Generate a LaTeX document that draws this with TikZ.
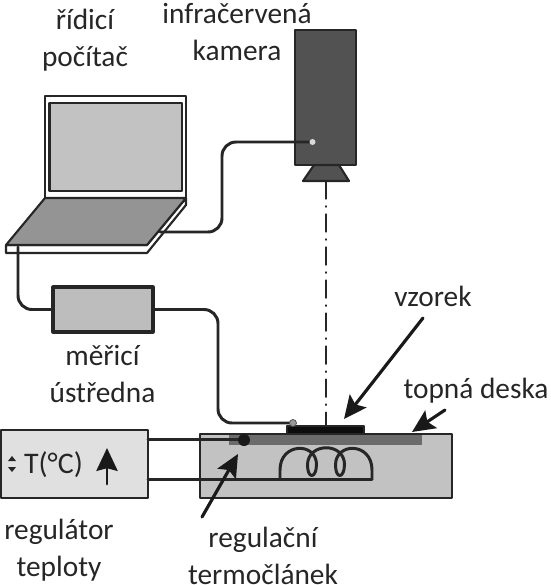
\documentclass[tikz,border=0pt]{standalone}
\usepackage{fontspec}
\setmainfont{Carlito}
\usetikzlibrary{arrows.meta}

\begin{document}
\begin{tikzpicture}[x=0.02cm, y=-0.02cm, line cap=round, line join=round]
  \def\u{0.02cm} % jeden pixel reference
  \tikzset{
    part/.style={draw=black!85, line width=1.2pt, inner sep=0pt, outer sep=0pt},
    cable/.style={line width=1.7pt, draw=black!85, rounded corners=14*\u},
    label/.style={font=\fontsize{16.7pt}{21pt}\selectfont, align=center, text=black!85, inner sep=0pt},
    pointer/.style={line width=1.8pt, draw=black!90, -{Stealth[length=13pt, width=12pt, inset=2.5pt]}}
  }
  \useasboundingbox (0,0) rectangle (551,585);

  % notebook
  \draw[part, fill=white] (45,96) rectangle (186,198);
  \node[part, fill=black!24, minimum width=132.5*\u, minimum height=88*\u] (screen) at (115.75,147) {};
  \draw[part, fill=white] (6,245) -- (147,245) -- (186,198) -- (186,205) -- (147,253) -- (6,253) -- cycle;
  \draw[part, fill=black!42] (45,198) -- (186,198) -- (147,245) -- (6,245) -- cycle;
  \coordinate (portright) at (160,232);
  \coordinate (portfront) at (18,247);

  % kamera
  \node[part, fill=black!68, minimum width=61*\u, minimum height=135*\u] (camera) at (325.5,97.5) {};
  \draw[part, fill=black!68] (314,165) -- (339,165) -- (349,181) -- (303,181) -- cycle;
  \coordinate (axistop) at (326,181);
  \coordinate (axisbottom) at (326,426);

  % merici ustredna
  \node[part, fill=black!26, line width=1.8pt, minimum width=100*\u, minimum height=45*\u] (meter) at (103,309.5) {};

  % regulator
  \node[part, fill=black!12, minimum width=147*\u, minimum height=68*\u] (regulator) at (74.5,464) {};
  \node[font=\fontsize{17pt}{20pt}\selectfont, text=black!85] (tempread) at (53.5,465) {T(°C)};
  \fill[black!85] (8,461) -- (16,461) -- (12,456) -- cycle;
  \fill[black!85] (8,467) -- (16,467) -- (12,472) -- cycle;
  \draw[line width=1.7pt, draw=black!90, -{Stealth[length=13pt, width=12pt, inset=1.5pt]}] (107,484) -- (107,448);

  % deska a vzorek
  \draw[part, fill=black!24] (200,434) rectangle (452,498);
  \fill[black!58] (229,435) rectangle (422,445);
  \node[part, fill=black!95, minimum width=77*\u, minimum height=8*\u] (sample) at (325.5,430) {};

  % kabely
  \draw[cable] (portright) -- (222,232) -- (222,142) -- (312,142);
  \draw[cable] (portfront) -- (18,309.5) -- (meter.west);
  \draw[cable] (meter.east) -- (218,309.5) -- (218,423) -- (293,423);
  \draw[cable, rounded corners=0pt] (regulator.east |- 0,439) -- (244,439);
  \draw[cable, rounded corners=0pt] (regulator.east |- 0,479) -- (372,479);
  \draw[line width=1.7pt, draw=black!85] (280,479) -- (280,470)
    .. controls (280,442) and (317,442) .. (316.5,465)
    .. controls (316,479) and (307.5,479) .. (307.5,465)
    .. controls (307.5,442) and (345,442) .. (344.5,465)
    .. controls (344,479) and (335.5,479) .. (335.5,465)
    .. controls (335.5,442) and (372,442) .. (372,470) -- (372,479);
  \draw[dash pattern=on 10.2pt off 4pt on 0.6pt off 4pt, line width=0.8pt, draw=black!85] (axistop) -- (axisbottom);

  \node[circle, fill=black!15, minimum size=6*\u, inner sep=0pt] (lens) at (312.5,142) {};
  \node[circle, fill=black!40, draw=black!70, minimum size=7*\u, inner sep=0pt] (probe) at (293,423) {};
  \node[circle, fill=black!90, minimum size=12*\u, inner sep=0pt] (junction) at (244,440) {};

  % popisky
  \node[label] (pc) at (85,40) {řídicí\\počítač};
  \node[label] (cam) at (237,32) {infračervená\\kamera};
  \node[label] (meterlabel) at (102.5,374) {měřicí\\ústředna};
  \node[label] (samplelabel) at (433,296) {vzorek};
  \node[label] (platelabel) at (476,391) {topná deska};
  \node[label] (reglabel) at (59,550) {regulátor\\teploty};
  \node[label] (tclabel) at (263,556) {regulační\\termočlánek};

  \draw[pointer] (423,318) -- (344,419);
  \draw[pointer] (445,410) -- (412,432);
  \draw[pointer] (202,517) -- (238,454);
\end{tikzpicture}
\end{document}
